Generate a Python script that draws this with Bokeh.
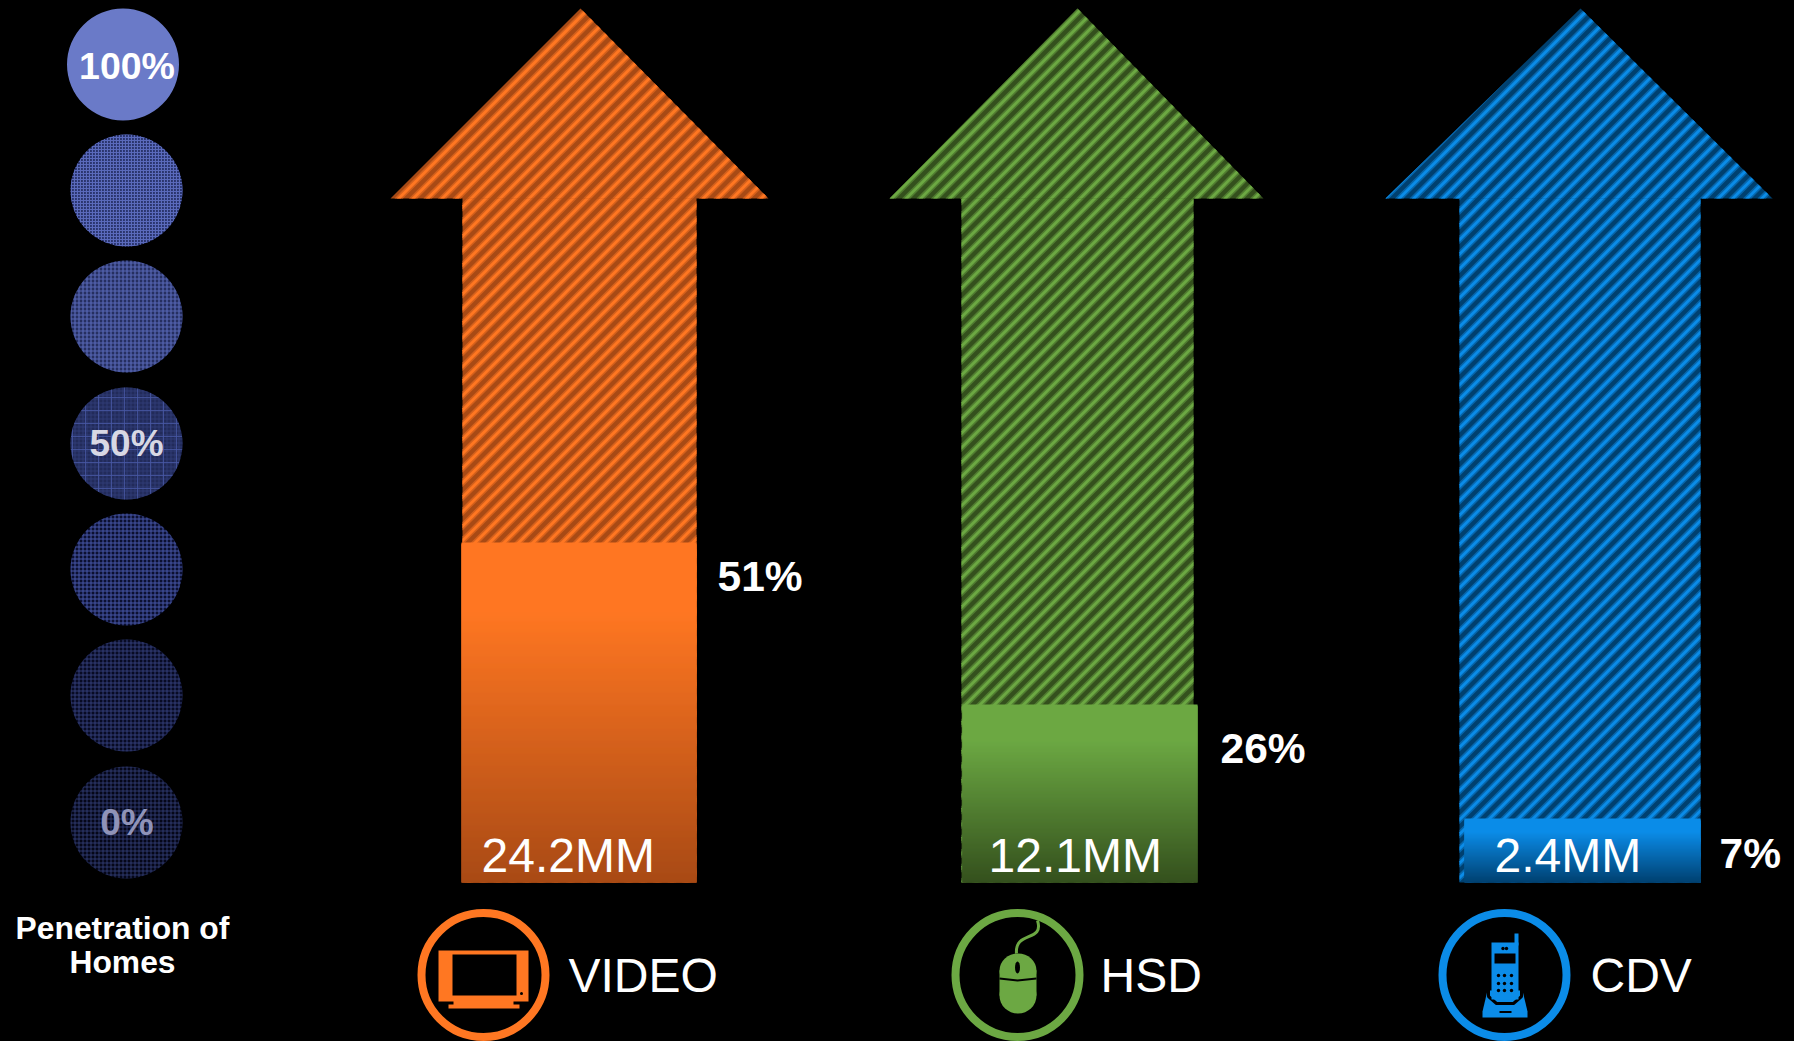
from bokeh.plotting import figure
from bokeh.embed import file_html
from bokeh.resources import INLINE
from bokeh.core.properties import value
from bokeh.models import Range1d

# ---- chart values ----
services = ["VIDEO", "HSD", "CDV"]
subscribers = ["24.2MM", "12.1MM", "2.4MM"]
penetration = ["51%", "26%", "7%"]
fill_heights = [340, 178, 64]
scale_labels = ["100%", "50%", "0%"]
axis_caption = ["Penetration of", "Homes"]

# ---- layout and style ----
BG = "#000000"
W, H = 1794, 1041
p = figure(width=W, height=H, x_range=Range1d(0, W), y_range=Range1d(H, 0),
           output_backend="svg", toolbar_location=None, min_border=0,
           background_fill_color=BG, border_fill_color=BG, outline_line_color=None)
p.axis.visible = False
p.grid.visible = False

FONT = value("Liberation Sans")
BOTTOM = 882

def text(x, y, s, size, color="#ffffff", bold=False, align="left"):
    # y is the baseline of the capitals; the label is centred on their mid-height
    p.text([x], [y - 0.358 * size], text=[s], text_font=FONT, text_font_size=value(f"{size}px"),
           text_color=color, text_align=align, text_baseline="middle",
           text_font_style="bold" if bold else "normal")

def mix(c0, c1, t):
    a = [int(c0[i:i+2], 16) for i in (1, 3, 5)]
    b = [int(c1[i:i+2], 16) for i in (1, 3, 5)]
    return "#%02x%02x%02x" % tuple(round(u + (v - u) * t) for u, v in zip(a, b))

def clip(poly, c, keep_above):
    # keep the part of a convex polygon on one side of the diagonal x + y = c
    out = []
    for i, (x0, y0) in enumerate(poly):
        x1, y1 = poly[(i + 1) % len(poly)]
        d0, d1 = x0 + y0 - c, x1 + y1 - c
        in0 = d0 >= 0 if keep_above else d0 <= 0
        in1 = d1 >= 0 if keep_above else d1 <= 0
        if in0:
            out.append((x0, y0))
        if in0 != in1:
            t = d0 / (d0 - d1)
            out.append((x0 + (x1 - x0) * t, y0 + (y1 - y0) * t))
    return out

def stripes(parts, period, width, phase, color):
    xs, ys = [], []
    c = phase - period
    while c < W + H + period:
        lo, hi = c - width / 2, c + width / 2
        for part in parts:
            q = clip(part, lo, True)
            if q:
                q = clip(q, hi, False)
            if len(q) >= 3:
                xs.append([a for a, _ in q])
                ys.append([b for _, b in q])
        c += period
    p.patches(xs, ys, fill_color=color, line_color=None)

styles = [
    dict(light="#ff7722", dark="#a84a15", tip=580, wl=390, wr=768, sl=462, sr=696,
         fl=461, fr=696, tx=481, px=717, py=591, cx=483, lx=568, ly=992),
    dict(light="#6ca843", dark="#34501d", tip=1077, wl=889, wr=1263, sl=961, sr=1193,
         fl=962, fr=1197, tx=988, px=1220, py=763, cx=1017, lx=1100, ly=992),
    dict(light="#0b8ce8", dark="#00406f", tip=1580, wl=1385, wr=1772, sl=1459, sr=1700,
         fl=1464, fr=1700, tx=1494, px=1719, py=868, cx=1504, lx=1590, ly=992),
]
TIP_Y = 8

for i, s in enumerate(styles):
    # hatched arrow: a dark base, then 45 degree stripes with a soft edge
    xs = [s["tip"], s["wr"], s["sr"], s["sr"], s["sl"], s["sl"], s["wl"]]
    ys = [TIP_Y, 198, 198, BOTTOM, BOTTOM, 198, 198]
    p.patch(xs, ys, fill_color=s["dark"], line_color=None)
    parts = [
        [(s["tip"], TIP_Y), (s["wr"], 198), (s["wl"], 198)],
        [(s["sl"], 198), (s["sr"], 198), (s["sr"], BOTTOM), (s["sl"], BOTTOM)],
    ]
    stripes(parts, 14.5, 8.5, 1.7, mix(s["light"], s["dark"], 0.5))
    stripes(parts, 14.5, 4, 1.7, s["light"])
    # filled gradient part
    top = BOTTOM - fill_heights[i]
    tops = list(range(top, BOTTOM))
    cols = []
    for y in tops:
        t = (y - top) / fill_heights[i]
        t = max(0.0, (t - 0.2) / 0.8)
        cols.append(mix(s["light"], s["dark"], t))
    p.quad(left=s["fl"], right=s["fr"], top=tops, bottom=[min(y + 3, BOTTOM) for y in tops],
           fill_color=cols, line_color=None)
    # labels
    text(s["tx"], 872, subscribers[i], 48)
    text(s["px"], s["py"], penetration[i], 42.5, bold=True)
    text(s["lx"], s["ly"], services[i], 48)
    # icon ring
    p.circle([s["cx"]], [974.5], radius=62, fill_color=None, line_color=s["light"], line_width=8)

# TV icon
tv = styles[0]["light"]
p.quad(left=[438, 448, 453], right=[528, 519, 513], top=[950, 1004, 1000], bottom=[1001, 1008, 1005],
       fill_color=tv, line_color=None)
p.quad(left=[452], right=[516], top=[954], bottom=[995], fill_color=BG, line_color=None)
p.circle([521], [993], radius=1.5, fill_color=BG, line_color=None)

# Mouse icon
ms = styles[1]["light"]
p.bezier(x0=[1037], y0=[920], x1=[1016], y1=[953], cx0=[1044], cy0=[942], cx1=[1014], cy1=[930],
         line_color=ms, line_width=3)
p.quad(left=[999], right=[1036], top=[970], bottom=[995], fill_color=ms, line_color=None)
p.ellipse([1017.5], [970], width=[37], height=[34], fill_color=ms, line_color=None)
p.ellipse([1017.5], [995], width=[37], height=[36], fill_color=ms, line_color=None)
p.ellipse([1017], [967], width=[5], height=[12], fill_color=BG, line_color=None)
p.line([999, 1017, 1036], [978, 980, 978], line_color=BG, line_width=2)

# Phone icon
ph = styles[2]["light"]
p.patch([1482, 1487, 1522, 1527, 1527, 1482], [1011, 990, 990, 1011, 1017, 1017],
        fill_color=ph, line_color=None)
p.line([1488, 1488, 1496, 1513, 1521, 1521], [988, 996, 1003, 1003, 996, 988],
       line_color=BG, line_width=3)
p.quad(left=[1491, 1514], right=[1518, 1518], top=[942, 933], bottom=[999, 945],
       fill_color=ph, line_color=None)
p.quad(left=[1494, 1499], right=[1515, 1511], top=[953, 1010.5], bottom=[963, 1012.5],
       fill_color=BG, line_color=None)
dot_x = [1498, 1504, 1511] * 3 + [1502.5, 1506]
dot_y = [975] * 3 + [983] * 3 + [990] * 3 + [948, 948]
p.circle(dot_x, dot_y, radius=1.7, fill_color=BG, line_color=None)

# Penetration scale
cy = [64, 190, 316, 443, 569, 695, 822]
cxs = [122.5, 126, 126, 126, 126, 126, 126]
bases = ["#6a7ac8", "#2a356e", "#262f60", "#222b5a", "#0c1030", "#080b24", "#050718"]
fine_col = [None, "#5a6abc", "#5666b4", "#2e3a74", "#4656a8", "#3a4688", "#33407e"]
fine_scale = [None, 3, 4, 4, 4, 4, 4]
fine_w = [None, 1.2, 1.2, 1, 1, 0.8, 0.8]
coarse_scale = [None, None, None, 13, None, None, None]
for x, y, b, g, sc, w, cs in zip(cxs, cy, bases, fine_col, fine_scale, fine_w, coarse_scale):
    if g is None:
        p.circle([x], [y], radius=56, fill_color=b, line_color=None)
        continue
    p.circle([x], [y], radius=56, fill_color=b, line_color=None,
             hatch_pattern="cross", hatch_color=g, hatch_scale=sc, hatch_weight=w)
    if cs:
        p.circle([x], [y], radius=56, fill_color=None, line_color=None,
                 hatch_pattern="cross", hatch_color="#4858a4", hatch_scale=cs, hatch_weight=0.8)

text(126.5, 79, scale_labels[0], 37.5, bold=True, align="center")
text(126, 456, scale_labels[1], 37, "#d8d8e4", bold=True, align="center")
text(126.5, 835, scale_labels[2], 37, "#8f93b8", bold=True, align="center")
text(122, 939, axis_caption[0], 31.8, bold=True, align="center")
text(122, 973, axis_caption[1], 31.8, bold=True, align="center")

html = file_html(p, INLINE)
html = html.replace("<head>", "<head><style>html,body{background:#000;overflow:hidden}</style>", 1)
open("out.html", "w").write(html)
